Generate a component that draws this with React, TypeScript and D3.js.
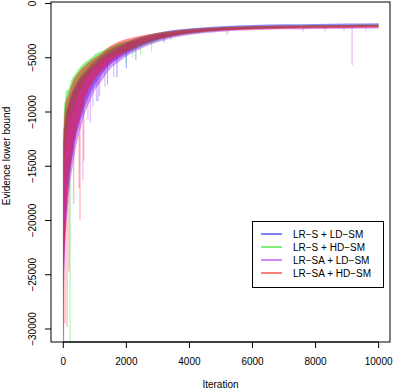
import React from "react";
import * as d3 from "d3";

const W = 394;
const H = 392;

const seriesNames = ["LR\u2212S + LD\u2212SM", "LR\u2212S + HD\u2212SM", "LR\u2212SA + LD\u2212SM", "LR\u2212SA + HD\u2212SM"];
const seriesColors = ["#0000ff", "#00dd00", "#a020f0", "#ff0000"];

const iterGrid = [0, 10, 30, 60, 100, 150, 200, 300, 400, 550, 700, 850, 1000, 1200, 1500, 1800, 2100, 2500, 3000, 3500, 4000, 5000, 6000, 7000, 8000, 9000, 10000];

// Upper / lower envelopes of each noisy series
const blueUpper = [-31000, -13000, -11500, -10500, -9800, -9300, -8800, -8000, -7400, -6700, -6200, -5700, -5300, -4800, -4200, -3800, -3450, -3050, -2700, -2450, -2300, -2100, -1980, -1920, -1880, -1850, -1820];
const blueLower = [-31000, -27000, -24000, -21500, -19500, -17500, -16000, -14000, -12300, -10700, -9300, -8300, -7500, -6600, -5600, -5000, -4500, -3900, -3350, -3000, -2750, -2450, -2300, -2200, -2140, -2100, -2070];
const greenUpper = [-31000, -11000, -9600, -8800, -8000, -8000, -7600, -6800, -6400, -5800, -5400, -5100, -4700, -4400, -4000, -3650, -3400, -3100, -2750, -2550, -2400, -2220, -2100, -2040, -2000, -1970, -1950];
const greenLower = [-31000, -22000, -17000, -14000, -13000, -12000, -11000, -9800, -9000, -8000, -7200, -6600, -6000, -5500, -4900, -4600, -4300, -3900, -3400, -3000, -2800, -2500, -2350, -2280, -2220, -2180, -2150];
const purpleUpper = [-31500, -13500, -12000, -11000, -10200, -9700, -9200, -8300, -7700, -7000, -6500, -6000, -5600, -5100, -4500, -4000, -3600, -3200, -2850, -2600, -2430, -2250, -2150, -2090, -2060, -2040, -2020];
const purpleLower = [-31500, -28000, -25000, -22500, -20500, -18500, -17000, -15000, -13300, -11500, -10000, -9000, -8000, -7200, -6000, -5300, -4700, -4100, -3550, -3150, -2900, -2600, -2450, -2380, -2340, -2320, -2300];
const redUpper = [-31500, -12000, -10500, -9500, -8800, -8500, -8000, -7200, -6700, -6100, -5700, -5300, -5000, -4600, -3900, -3450, -3200, -2950, -2700, -2500, -2350, -2180, -2080, -2030, -2000, -1980, -1960];
const redLower = [-31500, -26000, -23000, -21000, -18500, -16500, -15500, -13500, -12000, -10300, -8700, -7700, -7000, -6300, -5400, -4800, -4300, -3750, -3300, -3000, -2750, -2500, -2400, -2320, -2280, -2250, -2220];

// Isolated downward spikes: [iteration, top, bottom]
const blueSpikes = [[1400, -5500, -7500], [1700, -5000, -6800], [2000, -4500, -6000], [2300, -4000, -5200], [3200, -3000, -3600], [1100, -7000, -9000]];
const greenSpikes = [[215, -15000, -31500], [60, -9000, -13000], [1990, -3800, -5500], [2200, -3800, -5000], [2450, -3700, -4700], [2800, -3300, -4400], [3000, -3200, -3550], [3400, -3000, -3400]];
const purpleSpikes = [[8, -12500, -32000], [620, -9500, -16300], [780, -8000, -10700], [940, -7500, -9500], [1050, -7000, -9000], [1150, -6500, -8500], [1320, -6000, -7700], [1600, -5500, -6800], [860, -8000, -11000], [5200, -2400, -2900], [7600, -2200, -2600], [8300, -2200, -2550], [8900, -2200, -2500], [9160, -2150, -5700], [9600, -2200, -2500]];
const redSpikes = [[5, -11500, -32000], [55, -20000, -29500], [120, -18000, -29800], [180, -16000, -24700], [330, -13000, -18500], [500, -12000, -17000], [530, -11000, -20000], [650, -9000, -14500]];

const xTicks = [0, 2000, 4000, 6000, 8000, 10000];
const yTicks = [0, -5000, -10000, -15000, -20000, -25000, -30000];

const PL = 51, PR = 390, PT = 2, PB = 342;
const FONT = "'Liberation Sans', Arial, Helvetica, sans-serif";

export default function App() {
  const x = d3.scaleLinear().domain([-390, 10360]).range([PL, PR]);
  const y = d3.scaleLinear().domain([-31200, 140]).range([PB, PT]);

  const series = [
    { upper: blueUpper, lower: blueLower, spikes: blueSpikes },
    { upper: greenUpper, lower: greenLower, spikes: greenSpikes },
    { upper: purpleUpper, lower: purpleLower, spikes: purpleSpikes },
    { upper: redUpper, lower: redLower, spikes: redSpikes },
  ];

  const area = (u: number[], l: number[]) =>
    d3
      .area<number>()
      .x((_, i) => x(iterGrid[i]))
      .y0((_, i) => y(l[i]))
      .y1((_, i) => y(u[i]))
      .curve(d3.curveMonotoneX)(iterGrid) || "";

  const fmt = (v: number) => (v < 0 ? "\u2212" + Math.abs(v) : String(v));

  return (
    <svg width={W} height={H} style={{ position: "absolute", left: 0, top: 0, background: "#fff" }} fontFamily={FONT}>
      <defs>
        <clipPath id="plotclip">
          <rect x={PL} y={PT} width={PR - PL} height={PB - PT} />
        </clipPath>
      </defs>
      <g clipPath="url(#plotclip)">
        {series.map((s, k) => (
          <g key={k}>
            <path d={area(s.upper, s.lower)} fill={seriesColors[k]} fillOpacity={0.45} />
            {s.spikes.map((sp, j) => (
              <line key={j} x1={x(sp[0])} x2={x(sp[0])} y1={y(sp[1])} y2={y(sp[2])} stroke={seriesColors[k]} strokeOpacity={0.3} strokeWidth={1.2} />
            ))}
          </g>
        ))}
      </g>
      {/* box */}
      <rect x={PL} y={PT} width={PR - PL} height={PB - PT} fill="none" stroke="#000" strokeWidth={1} />
      {/* x axis */}
      <line x1={x(xTicks[0])} x2={x(xTicks[xTicks.length - 1])} y1={PB} y2={PB} stroke="#000" />
      {xTicks.map((t) => (
        <g key={t}>
          <line x1={x(t)} x2={x(t)} y1={PB} y2={PB + 6} stroke="#000" />
          <text x={x(t)} y={PB + 23} fontSize={10} textAnchor="middle">{String(t)}</text>
        </g>
      ))}
      {/* y axis */}
      {yTicks.map((t) => (
        <g key={t}>
          <line x1={PL - 6} x2={PL} y1={y(t)} y2={y(t)} stroke="#000" />
          <text transform={`translate(${PL - 15},${y(t)}) rotate(-90)`} fontSize={10} textAnchor="middle">{fmt(t)}</text>
        </g>
      ))}
      <text x={(PL + PR) / 2} y={388} fontSize={10} textAnchor="middle">Iteration</text>
      <text transform={`translate(10,156) rotate(-90)`} fontSize={10} textAnchor="middle">Evidence lower bound</text>
      {/* legend */}
      <rect x={252.5} y={221.5} width={131} height={66} fill="#fff" stroke="#000" />
      {seriesNames.map((n, i) => (
        <g key={n}>
          <line x1={261} x2={282} y1={234 + i * 13} y2={234 + i * 13} stroke={seriesColors[i]} strokeOpacity={0.5} strokeWidth={2} />
          <text x={293} y={237.5 + i * 13} fontSize={10}>{n}</text>
        </g>
      ))}
    </svg>
  );
}
